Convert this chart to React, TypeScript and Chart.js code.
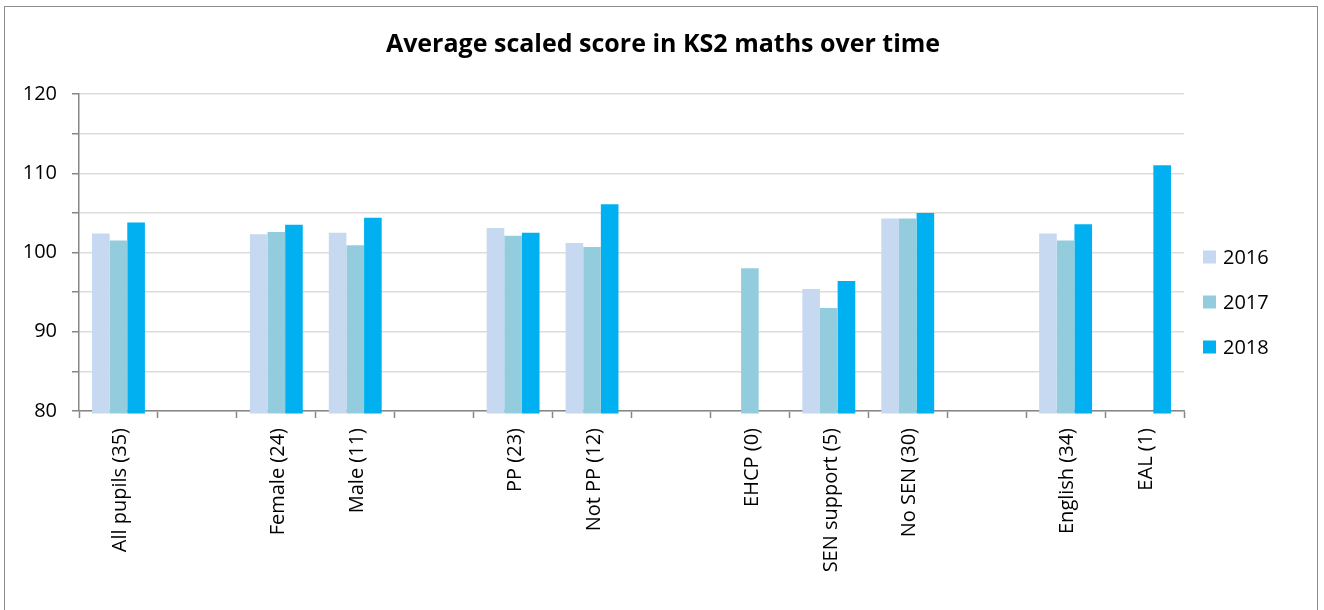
import React, { useEffect, useRef } from "react";
import { Chart, registerables } from "chart.js";

Chart.register(...registerables);

// Pupil groups (blank entries separate the groups on the axis)
const categories: string[] = [
  "All pupils (35)",
  "",
  "Female (24)",
  "Male (11)",
  "",
  "PP (23)",
  "Not PP (12)",
  "",
  "EHCP (0)",
  "SEN support (5)",
  "No SEN (30)",
  "",
  "English (34)",
  "EAL (1)",
];

const scores2016: (number | null)[] = [102.4, null, 102.3, 102.5, null, 103.1, 101.2, null, 0, 95.4, 104.3, null, 102.4, 0];
const scores2017: (number | null)[] = [101.5, null, 102.6, 100.9, null, 102.1, 100.7, null, 98.0, 93.0, 104.3, null, 101.5, 0];
const scores2018: (number | null)[] = [103.8, null, 103.5, 104.4, null, 102.5, 106.1, null, 0, 96.4, 105.0, null, 103.55, 111.0];

const yearLabels: string[] = ["2016", "2017", "2018"];
const yearColors: string[] = ["#C6D9F1", "#93CDDD", "#00B0F0"];

const chartTitle = "Average scaled score in KS2 maths over time";

const FONT = "'Open Sans', 'DejaVu Sans', sans-serif";

// Title centred across the whole canvas (not just the plot + legend gap)
const centredTitle = {
  id: "centredTitle",
  afterDraw(chart: Chart) {
    const { ctx } = chart;
    ctx.save();
    ctx.font = `bold 25px ${FONT}`;
    ctx.fillStyle = "#000000";
    ctx.textAlign = "center";
    ctx.textBaseline = "alphabetic";
    ctx.fillText(chartTitle, chart.width / 2 + 1, 52);
    ctx.restore();
  },
};

// Legend drawn to the right of the plot as a vertical list of coloured squares
const sideLegend = {
  id: "sideLegend",
  afterDraw(chart: Chart) {
    const { ctx, chartArea } = chart;
    ctx.save();
    ctx.font = `20px ${FONT}`;
    ctx.textBaseline = "middle";
    ctx.textAlign = "left";
    chart.data.datasets.forEach((ds, i) => {
      const cy = chartArea.top + 163 + i * 45;
      const x = chartArea.right + 19;
      ctx.fillStyle = ds.backgroundColor as string;
      ctx.fillRect(x, cy - 6.5, 13, 13);
      ctx.fillStyle = "#000000";
      ctx.fillText(String(ds.label), x + 20, cy + 1);
    });
    ctx.restore();
  },
};

export default function App() {
  const canvasRef = useRef<HTMLCanvasElement | null>(null);

  useEffect(() => {
    document.body.style.margin = "0";
    const canvas = canvasRef.current;
    if (!canvas) return;

    const series = [scores2016, scores2017, scores2018];

    const chart = new Chart(canvas, {
      type: "bar",
      data: {
        labels: categories,
        datasets: series.map((values, i) => ({
          label: yearLabels[i],
          data: values,
          backgroundColor: yearColors[i],
          borderWidth: 0,
          categoryPercentage: 0.67,
          barPercentage: 1.0,
          clip: { left: 0, top: 0, right: 0, bottom: 2.5 },
        })),
      },
      options: {
        responsive: false,
        animation: false,
        maintainAspectRatio: false,
        layout: { padding: { left: 0, right: 140, top: 94, bottom: 0 } },
        font: { family: FONT },
        plugins: {
          legend: { display: false },
          tooltip: { enabled: false },
          title: { display: false },
        },
        scales: {
          x: {
            grid: {
              offset: true,
              drawOnChartArea: false,
              drawTicks: true,
              tickLength: 7,
              tickColor: "#868686",
              tickWidth: 1.5,
            },
            border: { display: true, color: "#868686", width: 1.5 },
            ticks: {
              autoSkip: false,
              maxRotation: 90,
              minRotation: 90,
              padding: 10,
              labelOffset: 2,
              color: "#000000",
              font: { family: FONT, size: 20 },
            },
            afterFit(scale: any) {
              scale.height = 199;
            },
          },
          y: {
            min: 80,
            max: 120,
            grid: {
              color: "#DCDCDC",
              lineWidth: 1.5,
              tickLength: 7,
              tickColor: "#868686",
              tickWidth: 1.5,
            },
            border: { display: true, color: "#868686", width: 1.5 },
            ticks: {
              stepSize: 5,
              padding: 15,
              color: "#000000",
              font: { family: FONT, size: 20 },
              callback: (v: any) => (Number(v) % 10 === 0 ? String(v) : ""),
            },
            afterFit(scale: any) {
              scale.width = 79;
            },
          },
        },
      },
      plugins: [centredTitle, sideLegend],
    });

    return () => chart.destroy();
  }, []);

  return (
    <div style={{ position: "relative", width: 1324, height: 610, overflow: "hidden", background: "#ffffff" }}>
      <canvas ref={canvasRef} width={1324} height={610} style={{ position: "absolute", left: 0, top: 0 }} />
      <div
        style={{
          position: "absolute",
          left: 4,
          top: 6,
          width: 1314,
          height: 620,
          border: "1.5px solid #8C8C8C",
          boxSizing: "border-box",
          pointerEvents: "none",
        }}
      />
    </div>
  );
}
